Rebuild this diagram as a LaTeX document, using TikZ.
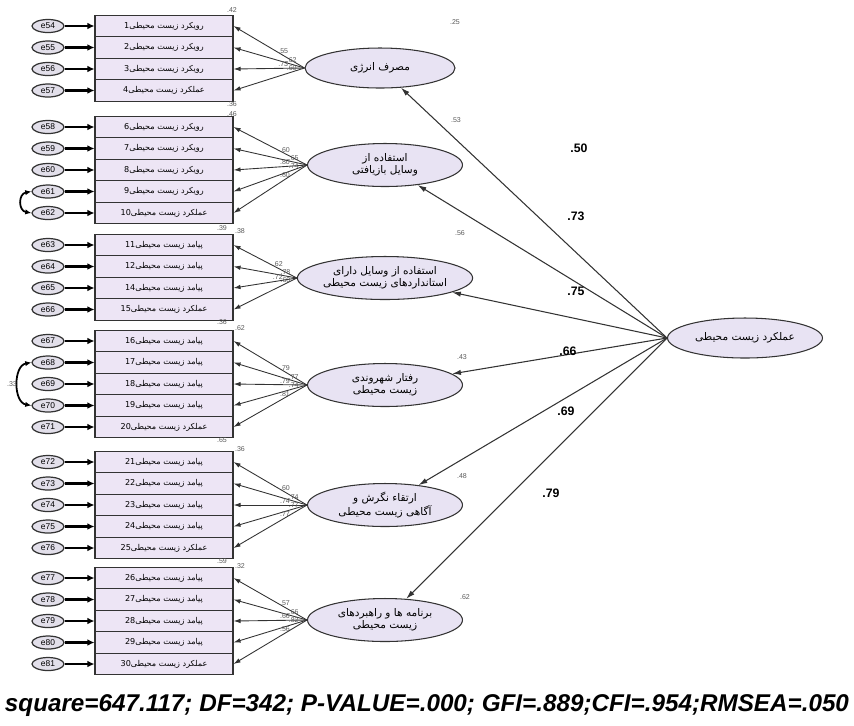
\documentclass[tikz,border=0pt]{standalone}
\usepackage{fontspec}
\setmainfont{Liberation Sans}
\newfontfamily\farsi[Script=Arabic]{DejaVu Sans}
\TeXXeTstate=1
\usetikzlibrary{arrows.meta,shapes.geometric}
\definecolor{LatentFill}{HTML}{E8E3F3}
\definecolor{ItemFill}{HTML}{EDE5F5}
\definecolor{ErrFill}{HTML}{E2DFEA}
\definecolor{LineGray}{HTML}{333333}
\newcommand{\fa}[1]{{\farsi\beginR #1\endR}}

\begin{document}
\begin{tikzpicture}[x=0.02cm,y=-0.02cm,
    latent/.style={ellipse,draw=LineGray,fill=LatentFill,line width=0.6pt,
      minimum width=3.1cm,minimum height=0.86cm,inner sep=0pt,align=center,
      font=\fontsize{6}{7}\selectfont},
    itembox/.style={rectangle,draw=LineGray,fill=ItemFill,line width=0.6pt,
      minimum width=2.76cm,minimum height=0.43cm,inner sep=0pt,
      font=\fontsize{4.6}{5}\selectfont},
    errnode/.style={ellipse,draw=LineGray,fill=ErrFill,line width=0.7pt,
      minimum width=0.64cm,minimum height=0.26cm,inner sep=0pt,
      font=\fontsize{4.8}{5}\selectfont},
    load/.style={draw=LineGray,line width=0.5pt,-{Latex[length=4pt,width=2.6pt]}},
    errarrow/.style={draw=black,line width=1.5pt,-{Latex[length=4pt,width=3.8pt]}},
    cov/.style={draw=black,line width=1pt,{Latex[length=3.5pt,width=3pt]}-{Latex[length=3.5pt,width=3pt]}},
    path/.style={draw=LineGray,line width=0.6pt,-{Latex[length=5pt,width=3pt]}},
    coef/.style={font=\fontsize{7}{8}\selectfont\bfseries,text=black},
    small/.style={font=\fontsize{4}{4.5}\selectfont,text=black!65,inner sep=0.6pt}
  ]
  \useasboundingbox (0,0) rectangle (854,725);

  % latent variables
  \node[latent,minimum width=3cm,minimum height=0.8cm] (L1) at (380,68) {\fa{مصرف انرژی}};
  \node[latent] (L2) at (385,165) {\fa{استفاده از}\\\fa{وسایل بازیافتی}};
  \node[latent] (L3) at (385,278) {\fa{استفاده از وسایل دارای}\\\fa{استانداردهای زیست محیطی}};
  \node[latent] (L4) at (385,385) {\fa{رفتار شهروندی}\\\fa{زیست محیطی}};
  \node[latent] (L5) at (385,505) {\fa{ارتقاء نگرش و}\\\fa{آگاهی زیست محیطی}};
  \node[latent] (L6) at (385,620) {\fa{برنامه ها و راهبردهای}\\\fa{زیست محیطی}};
  \node[latent,minimum width=3.1cm,minimum height=0.8cm] (R) at (745,338) {\fa{عملکرد زیست محیطی}};

  % observed items with their errors
  \foreach \k/\y/\num/\word in {
      1/26/1/رویکرد, 2/47.5/2/رویکرد, 3/69/3/رویکرد, 4/90.5/4/عملکرد,
      5/127/6/رویکرد, 6/148.5/7/رویکرد, 7/170/8/رویکرد, 8/191.5/9/رویکرد, 9/213/10/عملکرد,
      10/245/11/پیامد, 11/266.5/12/پیامد, 12/288/14/پیامد, 13/309.5/15/عملکرد,
      14/341/16/پیامد, 15/362.5/17/پیامد, 16/384/18/پیامد, 17/405.5/19/پیامد, 18/427/20/عملکرد,
      19/462/21/پیامد, 20/483.5/22/پیامد, 21/505/23/پیامد, 22/526.5/24/پیامد, 23/548/25/عملکرد,
      24/578/26/پیامد, 25/599.5/27/پیامد, 26/621/28/پیامد, 27/642.5/29/پیامد, 28/664/30/عملکرد}{
    \pgfmathtruncatemacro{\e}{53+\k}
    \node[itembox] (item\k) at (164,\y) {{\farsi\beginR\word{} زیست محیطی\beginL\num\endL\endR}};
    \node[errnode] (err\k) at (48,\y) {e\e};
    \draw[errarrow] (err\k) -- (item\k);
  }

  % factor loadings
  \foreach \k/\f/\lab/\p in {
      1/L1/.55/0.3, 2/L1/.62/0.18, 3/L1/.73/0.3, 4/L1/.60/0.18,
      5/L2/.60/0.3, 6/L2/.65/0.18, 7/L2/.80/0.3, 8/L2/.74/0.18, 9/L2/.60/0.3,
      10/L3/.62/0.3, 11/L3/.78/0.18, 12/L3/.72/0.3, 13/L3/.60/0.18,
      14/L4/.79/0.3, 15/L4/.77/0.18, 16/L4/.79/0.3, 17/L4/.74/0.18, 18/L4/.81/0.3,
      19/L5/.60/0.3, 20/L5/.74/0.18, 21/L5/.74/0.3, 22/L5/.77/0.18, 23/L5/.77/0.3,
      24/L6/.57/0.3, 25/L6/.66/0.18, 26/L6/.66/0.3, 27/L6/.82/0.18, 28/L6/.56/0.3}{
    \draw[load] (\f.west) -- (item\k.east) node[small,pos=\p,above] {\lab};
  }

  % error covariances
  \draw[cov] (err8.west) to[out=190,in=170,looseness=1.6] (err9.west);
  \draw[cov] (err15.west) to[out=190,in=170,looseness=1.1] (err17.west);
  \node[small] (covlab) at (12,384) {.33};

  % squared multiple correlations
  \foreach \x/\y/\r [count=\i] in {232/10/.42, 232/104/.36, 232/114/.46, 222/228/.39,
      240/231/.38, 222/322/.36, 240/328/.62, 222/440/.65, 240/449/.36, 222/561/.59,
      240/566/.32}{
    \node[small] (rsq\i) at (\x,\y) {\r};
  }
  \node[small] (rl1) at (455,22) {.25};
  \node[small] (rl2) at (456,120) {.53};
  \node[small] (rl3) at (460,233) {.56};
  \node[small] (rl4) at (462,357) {.43};
  \node[small] (rl5) at (462,476) {.48};
  \node[small] (rl6) at (465,597) {.62};

  % structural paths
  \foreach \t in {1,...,6}{
    \draw[path] (R.west) -- (L\t);
  }
  \node[coef] (c1) at (579,148) {.50};
  \node[coef] (c2) at (576,216) {.73};
  \node[coef] (c3) at (576,291) {.75};
  \node[coef] (c4) at (568,351) {.66};
  \node[coef] (c5) at (566,411) {.69};
  \node[coef] (c6) at (551,493) {.79};

  % fit indices
  \node[font=\fontsize{13.8}{15}\selectfont\bfseries\itshape] (fit) at (427,706)
    {square=647.117; DF=342; P-VALUE=.000; GFI=.889;CFI=.954;RMSEA=.050};
\end{tikzpicture}
\end{document}
